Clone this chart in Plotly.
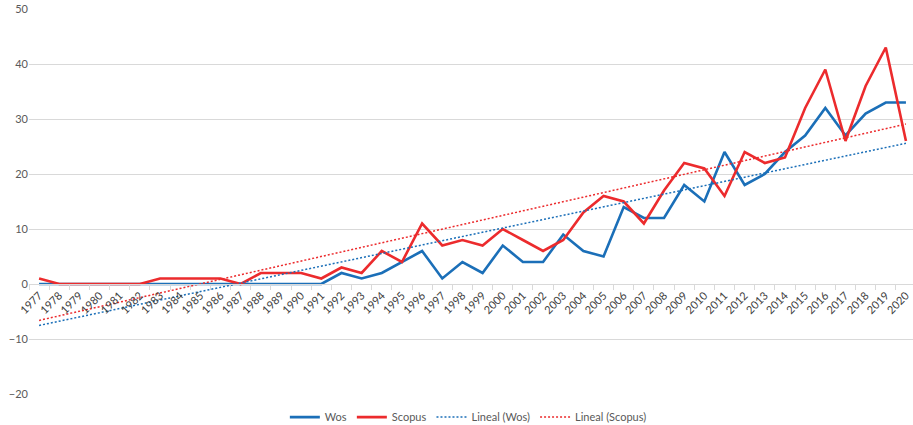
import numpy as np
import plotly.graph_objects as go

years = [str(y) for y in range(1977, 2021)]
wos = [0, 0, 0, 0, 0, 0, 0, 0, 0, 0, 0, 0, 0, 0, 0,
       2, 1, 2, 4, 6, 1, 4, 2, 7, 4, 4, 9, 6, 5, 14,
       12, 12, 18, 15, 24, 18, 20, 24, 27, 32, 27, 31, 33, 33]
scopus = [1, 0, 0, 0, 0, 0, 1, 1, 1, 1, 0, 2, 2, 2, 1,
          3, 2, 6, 4, 11, 7, 8, 7, 10, 8, 6, 8, 13, 16, 15,
          11, 17, 22, 21, 16, 24, 22, 23, 32, 39, 26, 36, 43, 26]

idx = np.arange(len(years))
wos_fit = np.polyval(np.polyfit(idx, wos, 1), idx)
sco_fit = np.polyval(np.polyfit(idx, scopus, 1), idx)

BLUE = "#1b6fb8"
RED = "#ec2b2d"
FONT = "Lato, 'Open Sans', sans-serif"

fig = go.Figure()
fig.add_trace(go.Scatter(x=years, y=wos, name="Wos", mode="lines",
                         line=dict(color=BLUE, width=2.6)))
fig.add_trace(go.Scatter(x=years, y=scopus, name="Scopus", mode="lines",
                         line=dict(color=RED, width=2.6)))
fig.add_trace(go.Scatter(x=years, y=wos_fit, name="Lineal (Wos)", mode="lines",
                         line=dict(color=BLUE, width=1.5, dash="2px,2px")))
fig.add_trace(go.Scatter(x=years, y=sco_fit, name="Lineal (Scopus)", mode="lines",
                         line=dict(color=RED, width=1.5, dash="2px,2px")))

ymin, ymax = -20, 50
fig.update_layout(
    width=913, height=425,
    margin=dict(l=29, r=0, t=9, b=31, autoexpand=False),
    plot_bgcolor="white", paper_bgcolor="white",
    font=dict(family=FONT, size=11, color="#595959"),
    showlegend=True,
    legend=dict(orientation="h", x=0.497, xanchor="center", y=-0.06, yanchor="middle",
                font=dict(size=11, color="#595959"), itemwidth=30),
    xaxis=dict(type="category", range=[-0.5, 43.35], anchor="free",
               position=(0 - ymin) / (ymax - ymin), automargin=False,
               showline=True, linecolor="#d9d9d9", linewidth=1,
               showgrid=False, ticks="outside", tickson="boundaries",
               ticklen=5, tickcolor="#d9d9d9", tickangle=-45,
               tickfont=dict(size=11, color="#404040")),
    yaxis=dict(range=[ymin, ymax], dtick=10, showgrid=True, gridcolor="#d9d9d9",
               gridwidth=1, zeroline=False, showline=False, ticks="",
               automargin=False,
               tickfont=dict(size=11, color="#595959")),
)

fig.write_html("out.html", config={"displayModeBar": False},
               post_script="document.body.style.margin='0px';document.body.style.overflow='hidden';")
